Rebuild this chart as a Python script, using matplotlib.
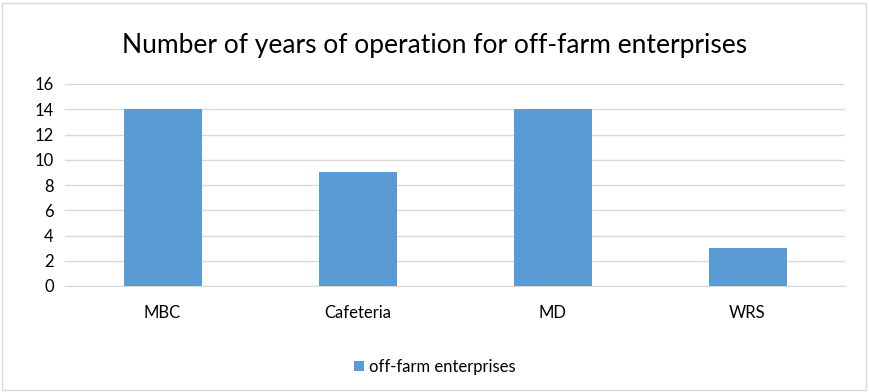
import numpy as np
import matplotlib.pyplot as plt
from matplotlib.patches import Rectangle

categories = ['MBC', 'Cafeteria', 'MD', 'WRS']
years = [14, 9, 14, 3]
series_name = 'off-farm enterprises'

plt.rcParams['font.family'] = ['Lato', 'DejaVu Sans']

fig = plt.figure(figsize=(8.69, 3.92), dpi=100)
ax = fig.add_axes([65 / 869, 1 - 286 / 392, 780 / 869, 202 / 392])

ind = np.arange(len(categories))
bars = ax.bar(ind, years, 0.4, color='#5B9BD5', label=series_name, zorder=3)

ax.set_xlim(-0.5, len(categories) - 0.5)
ax.set_ylim(0, 16)
ax.set_yticks(range(0, 17, 2))
ax.set_xticks(ind)
ax.set_xticklabels(categories)
ax.tick_params(axis='both', length=0, labelsize=12, colors='#000000')
ax.tick_params(axis='x', pad=14)
ax.tick_params(axis='y', pad=8)
ax.grid(axis='y', color='#D9D9D9', linewidth=1, zorder=0)
for s in ['top', 'right', 'left']:
    ax.spines[s].set_visible(False)
ax.spines['bottom'].set_color('#D9D9D9')

fig.text(0.5, 1 - 45 / 392, 'Number of years of operation for off-farm enterprises',
         ha='center', va='center', fontsize=19)

fig.legend(handles=[bars], labels=[series_name], loc='center',
           bbox_to_anchor=(0.5, 1 - 367 / 392), frameon=False, fontsize=12,
           handlelength=0.6, handleheight=0.6, handletextpad=0.3)

fig.patches.append(Rectangle((2 / 869, 2 / 392), 864 / 869, 387 / 392,
                             transform=fig.transFigure, fill=False,
                             edgecolor='#D9D9D9', linewidth=1))

fig.savefig('out.png', dpi=100)
